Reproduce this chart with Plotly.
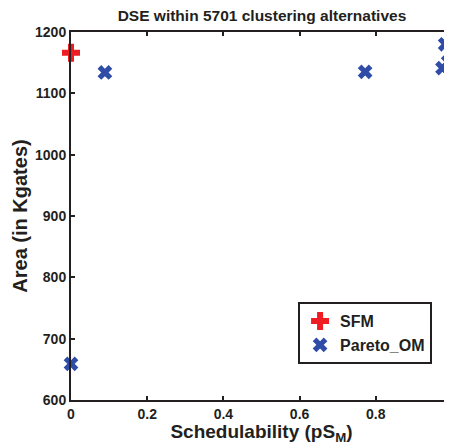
import plotly.graph_objs as go

# SFM point
sfm_x = [0.0]
sfm_y = [1166]

# Pareto_OM points
pareto_x = [0.0, 0.089, 0.772, 0.982, 0.99, 0.975]
pareto_y = [659, 1134, 1135, 1180, 1151, 1141]

font_family = 'Liberation Sans, Arial, sans-serif'

trace1 = go.Scatter(
    x=sfm_x, y=sfm_y, mode='markers', name='<b>SFM</b>',
    marker={'symbol': 'cross', 'size': 15, 'color': '#ee1d24'},
    cliponaxis=False
)
trace2 = go.Scatter(
    x=pareto_x, y=pareto_y, mode='markers', name='<b>Pareto_OM</b>',
    marker={'symbol': 'x', 'size': 13, 'color': '#2f4da6'},
    cliponaxis=False
)

axis_common = dict(
    showgrid=False, zeroline=False, showline=True, linecolor='#231f20',
    linewidth=2, mirror='ticks', ticks='inside', ticklen=4, tickwidth=2,
    tickcolor='#231f20', automargin=False,
    tickfont={'family': font_family, 'size': 14, 'color': '#231f20', 'weight': 'bold'},
)

# the page body has an 8px margin, so the figure is 8px smaller than the window
layout = go.Layout(
    width=444, height=437,
    margin={'l': 63, 'r': 0, 't': 24, 'b': 45, 'autoexpand': False},
    paper_bgcolor='white', plot_bgcolor='white',
    title={'text': '<b>DSE within 5701 clustering alternatives</b>', 'x': 0.572, 'y': 0.994,
           'xanchor': 'center', 'yanchor': 'top',
           'font': {'family': font_family, 'size': 15.5, 'color': '#231f20'}},
    xaxis=dict(axis_common, range=[0, 1], tickvals=[0, 0.2, 0.4, 0.6, 0.8, 1],
               ticktext=['0', '0.2', '0.4', '0.6', '0.8', '1'],
               title={'text': '<b>Schedulability (pS<sub>M</sub>)</b>', 'standoff': 1,
                      'font': {'family': font_family, 'size': 19, 'color': '#231f20'}}),
    yaxis=dict(axis_common, range=[600, 1200], dtick=100,
               title={'text': '<b>Area (in Kgates)</b>', 'standoff': 2,
                      'font': {'family': font_family, 'size': 20, 'color': '#231f20'}}),
    legend={'x': 0.596, 'y': 0.266, 'xanchor': 'left', 'yanchor': 'top',
            'bordercolor': '#231f20', 'borderwidth': 2, 'bgcolor': 'white',
            'font': {'family': font_family, 'size': 16, 'color': '#231f20'},
            'itemwidth': 30, 'tracegroupgap': 2},
    showlegend=True,
)

fig = go.Figure(data=[trace1, trace2], layout=layout)
fig.write_html('out.html')
